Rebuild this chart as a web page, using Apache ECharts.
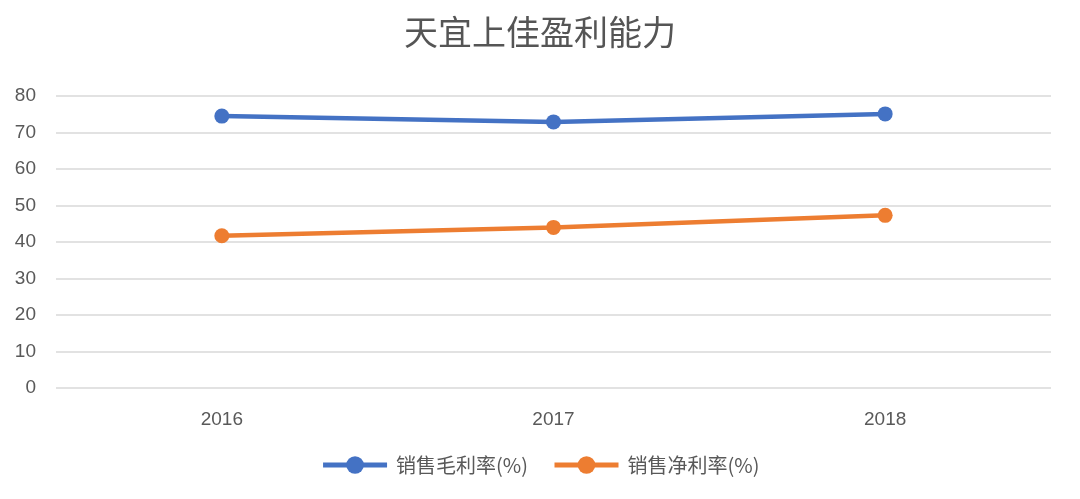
<!DOCTYPE html>
<html><head><meta charset="utf-8">
<script src="https://cdn.jsdelivr.net/npm/echarts@6/dist/echarts.min.js"></script>
<style>html,body{margin:0;padding:0;background:#fff;}#c{width:1080px;height:499px;}</style>
</head><body><div id="c"></div>
<script>
const categories = ['2016', '2017', '2018'];
const grossMargin = [74.5, 72.9, 75.1];
const netMargin = [41.7, 44.0, 47.3];
const yTicks = [0, 80, 10];
const chart = echarts.init(document.getElementById('c'));
chart.setOption({
  backgroundColor: '#fff',
  title: {text: '天宜上佳盈利能力', left: 'center', top: 10,
    textStyle: {fontFamily: 'Noto Sans CJK SC', fontSize: 34, fontWeight: 'normal', color: '#555'}},
  legend: {bottom: 19, itemWidth: 64, itemHeight: 22, itemGap: 24,
    lineStyle: {width: 5},
    textStyle: {fontFamily: 'Noto Sans CJK SC', fontSize: 20, color: '#595959', padding: [0, 0, 0, 4]},
    data: ['销售毛利率(%)', '销售净利率(%)']},
  grid: {left: 56, right: 29, top: 96, bottom: 111},
  xAxis: {type: 'category', data: categories,
    axisLine: {show: false}, axisTick: {show: false},
    axisLabel: {fontSize: 19, color: '#595959', margin: 22, fontFamily: 'Liberation Sans'}},
  yAxis: {type: 'value', min: yTicks[0], max: yTicks[1], interval: yTicks[2],
    axisLine: {show: false}, axisTick: {show: false},
    axisLabel: {fontSize: 19, color: '#595959', margin: 20, fontFamily: 'Liberation Sans'},
    splitLine: {lineStyle: {color: '#d9d9d9', width: 1.5}}},
  series: [
    {name: '销售毛利率(%)', type: 'line', data: grossMargin, symbol: 'circle', symbolSize: 15,
     itemStyle: {color: '#4472C4'}, lineStyle: {width: 4.5, color: '#4472C4'}},
    {name: '销售净利率(%)', type: 'line', data: netMargin, symbol: 'circle', symbolSize: 15,
     itemStyle: {color: '#ED7D31'}, lineStyle: {width: 4.5, color: '#ED7D31'}}
  ]
});
</script></body></html>
